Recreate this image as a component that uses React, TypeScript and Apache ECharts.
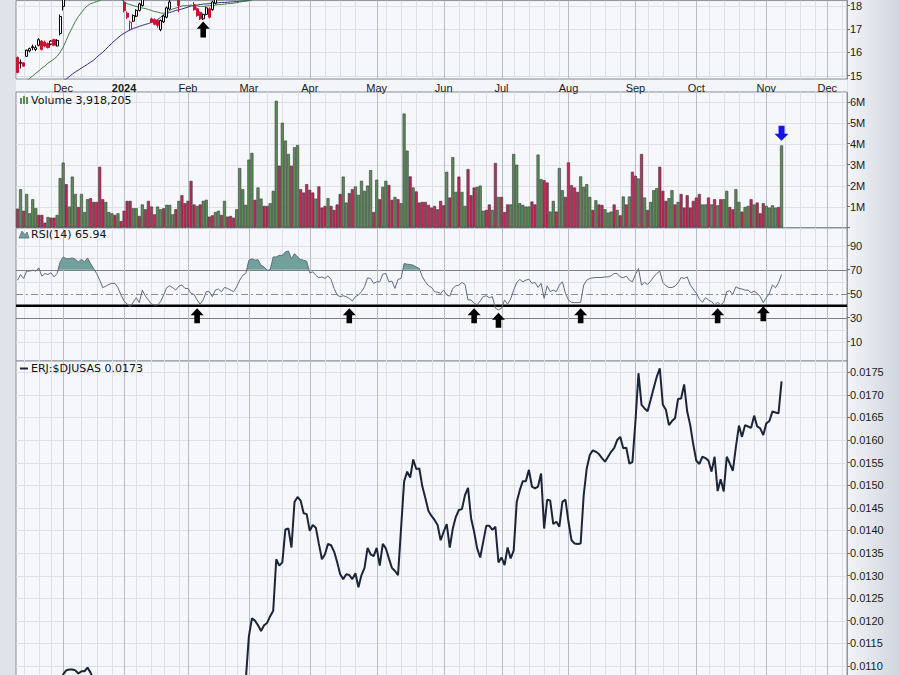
import React, { useEffect, useRef } from 'react';
import * as echarts from 'echarts';

// ---------- calendar ----------
const FIRST_DAY = '2023-11-09';
const LAST_AXIS_DAY = '2024-12-10';
const HOLIDAYS = ['2023-11-23', '2023-12-25', '2024-01-01', '2024-01-15', '2024-02-19', '2024-03-29', '2024-05-27', '2024-06-19', '2024-07-04', '2024-09-02', '2024-11-28'];
const MONTH_NAMES = ['Jan', 'Feb', 'Mar', 'Apr', 'May', 'Jun', 'Jul', 'Aug', 'Sep', 'Oct', 'Nov', 'Dec'];

// ---------- tick labels ----------
const PRICE_TICKS = [15, 16, 17, 18];
const RSI_TICKS = [10, 30, 50, 70, 90];
const RSI_GRID = [10, 20, 60, 80, 90];
const RSI_LEVELS = { overbought: 70, middle: 50, oversold: 30, support: 40 };
const RATIO_LABEL_MIN = 0.0110;

// ---------- volume (millions) ----------
const volumeM = [
  0.90, 1.83, 0.80, 1.60, 0.68, 1.35, 0.92, 0.60, 0.60, 0.23,
  0.50, 0.47, 0.47, 0.60, 2.36, 3.10, 2.07, 1.00, 2.43, 1.60,
  0.98, 1.60, 0.74, 1.35, 1.40, 1.22, 1.22, 2.90, 1.35, 1.22,
  0.74, 0.68, 0.60, 0.68, 0.31, 0.80, 1.27, 1.27, 0.92, 0.92,
  0.55, 1.10, 0.87, 1.27, 1.00, 0.63, 1.00, 0.87, 0.92, 1.08,
  1.08, 0.63, 0.87, 1.27, 1.54, 1.16, 1.27, 2.23, 1.10, 1.03,
  1.10, 1.27, 1.32, 0.52, 0.58, 0.74, 0.80, 0.60, 1.27, 0.52,
  0.55, 0.47, 0.87, 2.84, 1.83, 1.08, 3.24, 3.56, 1.32, 1.91,
  1.38, 1.03, 1.03, 1.16, 1.75, 6.05, 2.95, 5.00, 4.15, 3.51,
  2.95, 3.83, 3.94, 1.83, 1.67, 2.07, 1.80, 1.67, 1.38, 1.96,
  0.95, 1.03, 1.40, 1.03, 0.84, 1.10, 1.60, 2.43, 1.19, 1.64,
  1.83, 1.96, 1.56, 2.23, 1.75, 2.00, 2.74, 0.74, 2.28, 1.35,
  1.94, 2.23, 2.03, 1.32, 1.46, 1.35, 1.16, 5.44, 3.67, 2.44,
  1.91, 1.72, 1.19, 1.22, 1.22, 1.08, 0.95, 1.03, 0.87, 1.27,
  1.06, 2.66, 1.43, 3.36, 1.70, 2.43, 1.70, 1.03, 2.79, 1.54,
  1.91, 1.94, 2.00, 0.80, 0.84, 1.10, 0.84, 3.08, 1.46, 1.46,
  0.74, 1.10, 1.10, 3.51, 3.00, 1.16, 1.08, 1.00, 1.00, 1.24,
  1.10, 3.48, 2.31, 2.26, 2.15, 0.76, 1.27, 0.76, 2.84, 1.78,
  1.46, 3.11, 2.02, 1.91, 1.70, 2.44, 1.94, 2.07, 1.46, 0.84,
  1.30, 1.10, 1.08, 0.87, 0.71, 0.76, 1.10, 0.84, 0.58, 1.48,
  1.10, 1.48, 2.66, 2.47, 2.34, 3.51, 1.43, 0.84, 1.22, 1.78,
  1.88, 2.90, 1.75, 1.27, 1.40, 1.78, 1.10, 1.22, 1.60, 0.95,
  1.54, 0.95, 1.27, 1.43, 1.60, 1.10, 1.10, 1.43, 1.10, 1.35,
  1.06, 1.35, 1.35, 1.75, 0.98, 0.87, 1.83, 1.22, 0.76, 0.98,
  1.03, 1.35, 1.10, 1.19, 0.68, 1.16, 1.03, 0.95, 1.06, 0.95,
  0.98, 3.918205,
];
const volumeDir =
  'rgrggggrrr' + 'grrgggrggg' + 'rgggrrrrrg' + 'ggrgrrrrgg' + 'rgrrrrggrg' +
  'ggrgrrrrrg' + 'rggrrggrgr' + 'rrggggggrg' + 'grrgggrggg' + 'rggrrrrrgr' +
  'rrgrrrrggr' + 'rggggggrgr' + 'ggrrgrgggr' + 'grrrrrrrrr' + 'rgrggrggrr' +
  'rgggrrgrgr' + 'rrgggggggr' + 'rggrrggrgg' + 'rrrrrggggr' + 'grrgggrgrg' +
  'rgrrgrgrgg' + 'grrrggrgrr' + 'rrrrrggrgr' + 'grggrrggrg' + 'grgrrrgggg' +
  'rg';

// ---------- RSI(14) ----------
const rsi = [
  61.3, 66.0, 62.7, 68.8, 68.8, 69.6, 68.8, 71.5, 64.6, 66.8,
  66.0, 67.4, 64.0, 66.8, 76.5, 80.6, 79.2, 79.2, 79.8, 78.7,
  76.5, 78.7, 76.5, 79.8, 75.1, 71.0, 66.8, 61.3, 55.0, 56.3,
  57.7, 58.6, 58.6, 55.0, 48.9, 44.0, 41.4, 39.2, 42.8, 46.7,
  42.6, 53.0, 48.0, 44.8, 41.4, 40.6, 40.6, 43.4, 48.9, 55.0,
  56.6, 55.0, 53.0, 56.3, 57.2, 54.4, 54.4, 50.3, 49.4, 44.8,
  41.2, 44.8, 51.7, 51.7, 47.5, 53.0, 53.9, 51.7, 55.2, 54.4,
  53.0, 51.7, 55.8, 61.3, 65.4, 66.8, 77.9, 79.2, 77.9, 78.4,
  73.7, 72.3, 69.5, 69.9, 80.6, 80.6, 82.0, 82.0, 84.8, 85.6,
  79.2, 83.4, 80.6, 78.4, 77.9, 77.0, 67.4, 68.2, 65.4, 63.2,
  64.0, 62.7, 64.9, 61.9, 54.4, 48.9, 47.5, 48.3, 47.5, 46.1,
  44.0, 47.5, 48.9, 51.7, 55.8, 63.2, 62.7, 58.6, 59.9, 59.9,
  66.3, 66.8, 59.9, 60.5, 54.4, 61.9, 62.7, 75.1, 74.6, 74.3,
  73.7, 72.3, 71.0, 64.0, 59.9, 56.6, 55.2, 51.7, 51.1, 50.3,
  53.0, 48.9, 48.0, 54.4, 56.6, 57.2, 59.4, 57.7, 44.8, 44.8,
  42.0, 40.6, 44.0, 47.5, 48.3, 46.7, 47.5, 37.9, 36.5, 37.9,
  44.8, 41.2, 45.6, 53.0, 59.4, 61.9, 59.9, 61.3, 62.1, 58.6,
  59.4, 55.2, 58.6, 46.1, 56.6, 51.7, 53.0, 51.7, 57.2, 59.9,
  50.3, 44.8, 42.8, 42.6, 42.6, 42.8, 57.2, 61.3, 62.7, 63.2,
  63.5, 63.5, 63.5, 64.0, 64.0, 64.9, 66.8, 66.8, 64.0, 63.2,
  64.6, 61.3, 59.9, 66.0, 71.0, 57.2, 59.4, 57.7, 60.5, 64.0,
  66.8, 68.8, 59.4, 56.6, 55.2, 55.2, 56.3, 59.1, 63.5, 62.7,
  64.0, 57.2, 53.9, 50.3, 45.6, 42.8, 46.7, 44.8, 43.4, 40.6,
  42.8, 40.6, 42.8, 51.7, 52.5, 49.4, 55.8, 54.4, 53.9, 53.0,
  53.0, 50.8, 52.2, 50.3, 47.5, 42.6, 46.7, 50.3, 57.2, 55.0,
  59.1, 65.94,
];

// ---------- ERJ:$DJUSAS ratio ----------
const ratio = [
  0.0097, 0.0098, 0.0098, 0.0100, 0.0101, 0.0102, 0.0101, 0.0103, 0.0102, 0.0102,
  0.0102, 0.0103, 0.0102, 0.0103, 0.0105, 0.01081, 0.01090, 0.01092, 0.01092, 0.01090,
  0.01083, 0.01088, 0.01088, 0.01096, 0.01085, 0.0107, 0.0106, 0.0107, 0.0106, 0.0105,
  0.0106, 0.0107, 0.0106, 0.0105, 0.0104, 0.0103, 0.0102, 0.0100, 0.0101, 0.0102,
  0.0103, 0.0104, 0.0104, 0.0103, 0.0102, 0.0101, 0.0100, 0.0099, 0.0100, 0.0101,
  0.0102, 0.0103, 0.0103, 0.0102, 0.0103, 0.0104, 0.0104, 0.0103, 0.0102, 0.0101,
  0.0100, 0.0100, 0.0101, 0.0102, 0.0101, 0.0102, 0.0103, 0.0104, 0.0104, 0.0105,
  0.0104, 0.0105, 0.0105, 0.0106, 0.0106, 0.0107, 0.01165, 0.01205, 0.01200, 0.01190,
  0.01177, 0.01190, 0.01195, 0.01210, 0.01222, 0.01336, 0.01322, 0.01329, 0.01402, 0.01404,
  0.01362, 0.01463, 0.01474, 0.01466, 0.01438, 0.01436, 0.01399, 0.01412, 0.01406, 0.01370,
  0.01336, 0.01347, 0.01370, 0.01367, 0.01353, 0.01330, 0.01303, 0.01292, 0.01303, 0.01301,
  0.01292, 0.01305, 0.01274, 0.01301, 0.01317, 0.01361, 0.01347, 0.01343, 0.01361, 0.01322,
  0.01370, 0.01360, 0.01338, 0.01317, 0.01310, 0.01301, 0.01404, 0.01508, 0.01530, 0.01517,
  0.01557, 0.01536, 0.01537, 0.01497, 0.01471, 0.01443, 0.01432, 0.01423, 0.01412, 0.01378,
  0.01397, 0.01414, 0.01362, 0.01404, 0.01430, 0.01445, 0.01447, 0.01478, 0.01494, 0.01427,
  0.01397, 0.01360, 0.01340, 0.01375, 0.01410, 0.01410, 0.01401, 0.01408, 0.01329, 0.01340,
  0.01323, 0.01362, 0.01338, 0.01355, 0.01463, 0.01489, 0.01509, 0.01509, 0.01534, 0.01497,
  0.01493, 0.01497, 0.01526, 0.01404, 0.01468, 0.01466, 0.01414, 0.01419, 0.01408, 0.01463,
  0.01468, 0.01419, 0.01378, 0.01371, 0.01370, 0.01371, 0.01478, 0.01537, 0.01567, 0.01577,
  0.01574, 0.01569, 0.01560, 0.01552, 0.01563, 0.01574, 0.01582, 0.01600, 0.01607, 0.01582,
  0.01583, 0.01548, 0.01551, 0.01641, 0.01748, 0.01678, 0.01670, 0.01664, 0.01689, 0.01715,
  0.01740, 0.01759, 0.01678, 0.01667, 0.01633, 0.01642, 0.01648, 0.01691, 0.01692, 0.01723,
  0.01663, 0.01633, 0.01590, 0.01554, 0.01547, 0.01563, 0.01560, 0.01554, 0.01530, 0.01563,
  0.01487, 0.01513, 0.01486, 0.01563, 0.01548, 0.01532, 0.01585, 0.01632, 0.01607, 0.01633,
  0.01630, 0.01627, 0.01654, 0.01630, 0.01626, 0.01611, 0.01637, 0.01642, 0.01663, 0.01661,
  0.01659, 0.0173,
];

// ---------- visible price candles ----------
const candleIndex = [0, 1, 2, 3, 4, 5, 6, 7, 8, 9, 10, 11, 12, 13, 14, 15, 35, 36, 37, 38, 39, 40, 41, 44, 45, 46, 47, 48, 49, 50, 53, 58, 59, 60, 61, 62, 63, 64, 65];
const candleOpen = [15.78, 15.53, 15.55, 15.83, 16.06, 16.20, 16.12, 16.30, 16.48, 16.44, 16.37, 16.35, 16.54, 16.27, 16.80, 17.96, 18.14, 17.67, 16.97, 17.33, 17.54, 17.79, 18.00, 17.43, 17.40, 17.36, 16.97, 17.30, 17.50, 17.85, 18.30, 18.04, 17.86, 17.71, 17.43, 17.62, 17.86, 17.82, 18.10];
const candleClose = [15.14, 15.57, 15.41, 16.09, 16.16, 16.24, 16.20, 16.54, 16.12, 16.27, 16.20, 16.48, 16.30, 16.51, 17.53, 18.40, 17.79, 17.50, 17.29, 17.57, 17.79, 18.07, 18.30, 17.29, 17.20, 17.15, 17.36, 17.55, 17.90, 18.15, 18.00, 17.82, 17.57, 17.43, 17.62, 17.90, 17.50, 18.15, 18.35];
const candleLow = [15.10, 15.31, 15.38, 15.80, 16.00, 16.09, 16.05, 16.25, 16.08, 16.22, 16.17, 16.30, 16.27, 16.25, 16.72, 17.79, 17.70, 17.42, 16.92, 17.30, 17.50, 17.74, 17.95, 17.25, 17.16, 17.05, 16.90, 17.25, 17.45, 17.80, 17.71, 17.78, 17.52, 17.38, 17.38, 17.58, 17.45, 17.78, 18.05];
const candleHigh = [15.82, 15.69, 15.58, 16.12, 16.20, 16.33, 16.30, 16.60, 16.52, 16.50, 16.42, 16.52, 16.58, 16.56, 17.62, 18.55, 18.30, 17.75, 17.35, 17.62, 17.84, 18.12, 18.40, 17.48, 17.45, 17.40, 17.40, 17.60, 17.95, 18.25, 18.40, 18.15, 17.92, 17.75, 17.66, 17.95, 17.92, 18.20, 18.45];
const redHollowCandles = [37];

// ---------- moving averages (visible part) ----------
const maFastStart = 3;
const maFast = [
  14.77, 14.90, 14.99, 15.11, 15.20, 15.33, 15.41, 15.54, 15.62, 15.71,
  15.83, 16.00, 16.22, 16.51, 16.81, 17.06, 17.32, 17.53, 17.70, 17.87,
  17.99, 18.08, 18.12, 18.17, 18.21, 18.30, 18.38, 18.44, 18.48, 18.48,
  18.40, 18.28, 18.15, 18.08, 18.04, 18.00, 17.96, 17.93, 17.89, 17.87,
  17.83, 17.79, 17.74, 17.72, 17.68, 17.67, 17.70, 17.79, 17.85, 17.89,
  17.93, 17.98, 17.99, 17.99, 18.02, 17.99, 17.98, 17.96, 17.96, 17.98,
  17.99, 17.99, 18.02, 18.04, 18.04, 18.06, 18.08, 18.08, 18.10, 18.12,
  18.15, 18.17, 18.19, 18.21, 18.25, 18.30, 18.36, 18.45,
];
const maSlowStart = 15;
const maSlow = [
  14.80, 14.86, 14.96, 15.07, 15.16, 15.24, 15.33, 15.41, 15.49, 15.58,
  15.66, 15.79, 15.90, 16.00, 16.13, 16.26, 16.39, 16.51, 16.62, 16.73,
  16.81, 16.89, 16.96, 17.02, 17.06, 17.11, 17.15, 17.19, 17.23, 17.28,
  17.32, 17.40, 17.49, 17.62, 17.66, 17.70, 17.74, 17.79, 17.81, 17.85,
  17.89, 17.93, 17.98, 17.99, 18.02, 18.04, 18.06, 18.07, 18.08, 18.10,
  18.10, 18.12, 18.13, 18.13, 18.14, 18.15, 18.16, 18.17, 18.18, 18.19,
  18.20, 18.21, 18.25, 18.30,
];

// ---------- annotations (arrows) ----------
const priceArrow = [61, 16.98];
const rsiArrows = [[59, 31.6], [109, 31.6], [150, 31.6], [158, 27.8], [185, 31.6], [230, 31.6], [245, 33.2]];
const volumeArrow = [251, 4.5];

// ---------- styles ----------
const OUTER_BG = '#dfe3ea';
const PLOT_BG = '#f5f7fa';
const GRID_MINOR = '#dde1e7';
const GRID_MAJOR = '#b7bbc3';
const BORDER = '#8a9099';
const GREEN = '#5b8c57';
const RED = '#c42657';
const CANDLE_RED = '#cc1133';
const FONT_AXIS = '"Liberation Sans", Arial, sans-serif';
const FONT_LEGEND = '"DejaVu Sans", Verdana, sans-serif';
const UP_ARROW = 'path://M7,0 L14,7 L10,7 L10,15 L4,15 L4,7 L0,7 Z';
const DOWN_ARROW = 'path://M4,0 L10,0 L10,8 L14,8 L7,15 L0,8 L4,8 Z';

function tradingDays(start: string, end: string, holidays: string[]) {
  const out: string[] = [];
  const hs = new Set(holidays);
  const d = new Date(start + 'T00:00:00Z');
  const e = new Date(end + 'T00:00:00Z');
  while (d <= e) {
    const wd = d.getUTCDay();
    const s = d.toISOString().slice(0, 10);
    if (wd !== 0 && wd !== 6 && !hs.has(s)) out.push(s);
    d.setUTCDate(d.getUTCDate() + 1);
  }
  return out;
}

function buildOption() {
  const dates = tradingDays(FIRST_DAY, LAST_AXIS_DAY, HOLIDAYS);
  const monthStarts: number[] = [];
  const weekStarts: number[] = [];
  for (let i = 1; i < dates.length; i++) {
    if (dates[i].slice(0, 7) !== dates[i - 1].slice(0, 7)) monthStarts.push(i);
    const a = new Date(dates[i] + 'T00:00:00Z').getUTCDay();
    const b = new Date(dates[i - 1] + 'T00:00:00Z').getUTCDay();
    if (a < b) weekStarts.push(i);
  }
  const monthSet = new Set(monthStarts);
  const minorIdx = weekStarts.filter((w) => monthStarts.every((m) => Math.abs(m - w) > 2));

  const grids = [
    { top: 0, height: 79 },
    { top: 92, height: 135.5 },
    { top: 228, height: 133 },
    { top: 361, height: 350 },
  ].map((g) => ({
    left: 16, width: 831, top: g.top, height: g.height, show: true,
    backgroundColor: PLOT_BG, borderColor: BORDER, borderWidth: 1, containLabel: false,
  }));

  const xAxes = [0, 1, 2, 3].map((gi) => ({
    type: 'category', gridIndex: gi, data: dates, boundaryGap: true,
    axisLine: { show: false }, axisTick: { show: false }, splitLine: { show: false },
    axisLabel: gi === 0 ? {
      show: true, interval: (idx: number) => monthSet.has(idx), margin: 3,
      color: '#1a1a1a', fontSize: 11, fontFamily: FONT_AXIS,
      formatter: (v: string) => {
        const m = +v.slice(5, 7);
        return m === 1 ? '{y|' + v.slice(0, 4) + '}' : MONTH_NAMES[m - 1];
      },
      rich: { y: { fontWeight: 'bold', fontSize: 11, fontFamily: FONT_AXIS, color: '#1a1a1a' } },
    } : { show: false },
  }));

  const yBase = (gi: number) => ({
    type: 'value', gridIndex: gi, position: 'right', scale: true,
    axisLine: { show: true, lineStyle: { color: '#8c8c8c', type: 'dotted' } },
    axisTick: { show: true, length: 3, lineStyle: { color: '#6c6c6c' } },
    splitLine: { show: false },
    axisLabel: { color: '#1a1a1a', fontSize: 11, fontFamily: FONT_AXIS, margin: 3 },
  });
  const yAxes: any[] = [
    { ...yBase(0), min: 14.86, max: 18.21, axisLabel: { ...yBase(0).axisLabel, customValues: PRICE_TICKS }, axisTick: { ...yBase(0).axisTick, customValues: PRICE_TICKS } },
    { ...yBase(1), min: 0, max: 6.47, interval: 1, axisLabel: { ...yBase(1).axisLabel, showMaxLabel: false, formatter: (v: number) => (v > 0.5 && v < 6.4 ? Math.round(v) + 'M' : '') } },
    { ...yBase(2), min: -6.08, max: 104.75, axisLabel: { ...yBase(2).axisLabel, customValues: RSI_TICKS }, axisTick: { ...yBase(2).axisTick, customValues: RSI_TICKS } },
    {
      ...yBase(3), min: 0.01, max: 0.01775, interval: 0.0005,
      axisLabel: { ...yBase(3).axisLabel, showMaxLabel: false, showMinLabel: false, formatter: (v: number) => (v > 0.01774 || v < RATIO_LABEL_MIN - 1e-7 ? '' : v.toFixed(4)) },
    },
  ];

  const hGrid: any[][] = [
    PRICE_TICKS.map((v) => ({ v, color: GRID_MINOR })),
    [1, 2, 3, 4, 5, 6].map((v) => ({ v, color: GRID_MINOR })),
    [
      ...RSI_GRID.map((v) => ({ v, color: GRID_MINOR })),
      { v: RSI_LEVELS.overbought, color: '#7d8088' },
      { v: RSI_LEVELS.oversold, color: '#7d8088' },
      { v: RSI_LEVELS.middle, color: '#8a8d94', dash: [7, 3, 2, 3] },
    ],
    Array.from({ length: 16 }, (_, k) => ({ v: 0.01 + k * 0.0005, color: GRID_MINOR })),
  ];

  const gridLines = (gi: number) => ({
    type: 'custom', xAxisIndex: gi, yAxisIndex: gi, z: 1, silent: true, clip: true,
    data: [[0, 0]],
    renderItem: (params: any, api: any) => {
      const cs = params.coordSys;
      const top = cs.y, bottom = cs.y + cs.height, left = cs.x, right = cs.x + cs.width;
      const children: any[] = [];
      minorIdx.forEach((i) => {
        const x = Math.round(api.coord([i, 0])[0]) + 0.5;
        children.push({ type: 'line', shape: { x1: x, y1: top, x2: x, y2: bottom }, style: { stroke: GRID_MINOR, lineWidth: 1 } });
      });
      hGrid[gi].forEach((h: any) => {
        const y = Math.round(api.coord([0, h.v])[1]) + 0.5;
        if (y < top || y > bottom) return;
        children.push({ type: 'line', shape: { x1: left, y1: y, x2: right, y2: y }, style: { stroke: h.color, lineWidth: 1, lineDash: h.dash } });
      });
      monthStarts.forEach((i) => {
        const x = Math.round(api.coord([i, 0])[0]) + 0.5;
        children.push({ type: 'line', shape: { x1: x, y1: top, x2: x, y2: bottom }, style: { stroke: GRID_MAJOR, lineWidth: 1 } });
      });
      if (gi === 2) {
        const y = api.coord([0, RSI_LEVELS.support])[1];
        children.push({ type: 'line', shape: { x1: left, y1: y, x2: right, y2: y }, style: { stroke: '#000', lineWidth: 2.6 } });
      }
      return { type: 'group', children };
    },
  });

  const candleData = candleIndex.map((idx, k) => {
    const item: any = { value: [idx, candleOpen[k], candleClose[k], candleLow[k], candleHigh[k]] };
    if (redHollowCandles.includes(idx)) item.itemStyle = { color: '#ffffff', borderColor: CANDLE_RED };
    return item;
  });

  const padLine = (start: number, vals: number[]) => {
    const out: any[] = new Array(dates.length).fill('-');
    vals.forEach((v, k) => { out[start + k] = v; });
    return out;
  };

  const rsiFill = {
    type: 'custom', xAxisIndex: 2, yAxisIndex: 2, z: 2, silent: true, clip: true,
    data: [[0, RSI_LEVELS.overbought]],
    renderItem: (params: any, api: any) => {
      const lvl = RSI_LEVELS.overbought;
      const y70 = api.coord([0, lvl])[1];
      const pts = rsi.map((v, i) => api.coord([i, v]));
      const children: any[] = [];
      let poly: number[][] | null = null;
      for (let i = 0; i < rsi.length; i++) {
        const above = rsi[i] > lvl;
        if (above && !poly) {
          poly = [];
          if (i > 0) {
            const t = (lvl - rsi[i - 1]) / (rsi[i] - rsi[i - 1]);
            poly.push([pts[i - 1][0] + t * (pts[i][0] - pts[i - 1][0]), y70]);
          } else poly.push([pts[i][0], y70]);
        }
        if (above && poly) poly.push(pts[i]);
        if (poly && (!above || i === rsi.length - 1)) {
          if (!above) {
            const t = (rsi[i - 1] - lvl) / (rsi[i - 1] - rsi[i]);
            poly.push([pts[i - 1][0] + t * (pts[i][0] - pts[i - 1][0]), y70]);
          } else poly.push([pts[i][0], y70]);
          children.push({ type: 'polygon', shape: { points: poly }, style: { fill: '#72a19c' } });
          poly = null;
        }
      }
      return { type: 'group', children };
    },
  };

  const series: any[] = [
    gridLines(0), gridLines(1), gridLines(2), gridLines(3),
    {
      type: 'line', xAxisIndex: 0, yAxisIndex: 0, z: 3, data: padLine(maSlowStart, maSlow),
      showSymbol: false, symbol: 'none', silent: true, lineStyle: { color: '#2f2f88', width: 1 }, clip: true,
    },
    {
      type: 'line', xAxisIndex: 0, yAxisIndex: 0, z: 3, data: padLine(maFastStart, maFast),
      showSymbol: false, symbol: 'none', silent: true, lineStyle: { color: '#3f7d3b', width: 1 }, clip: true,
    },
    {
      type: 'candlestick', xAxisIndex: 0, yAxisIndex: 0, z: 4, silent: true, clip: true,
      encode: { x: 0, y: [1, 2, 3, 4] }, barWidth: 2.6,
      data: candleData,
      itemStyle: { color: '#ffffff', borderColor: '#000000', color0: CANDLE_RED, borderColor0: CANDLE_RED, borderWidth: 1 },
      markPoint: {
        silent: true, symbol: UP_ARROW, symbolSize: [13, 16], itemStyle: { color: '#000' }, label: { show: false },
        data: [{ coord: priceArrow }],
      },
    },
    {
      type: 'bar', xAxisIndex: 1, yAxisIndex: 1, z: 3, silent: true, barCategoryGap: '0%',
      data: volumeM.map((v, i) => ({
        value: v,
        itemStyle: { color: volumeDir[i] === 'g' ? GREEN : RED },
      })),
      itemStyle: { borderColor: '#3a3a3a', borderWidth: 0.6 },
      markPoint: {
        silent: true, symbol: DOWN_ARROW, symbolSize: [14, 15], itemStyle: { color: '#1414e6' }, label: { show: false },
        data: [{ coord: volumeArrow }],
      },
    },
    rsiFill,
    {
      type: 'line', xAxisIndex: 2, yAxisIndex: 2, z: 3, data: rsi, showSymbol: false, symbol: 'none', silent: true,
      lineStyle: { color: '#5f6b80', width: 1 },
      markPoint: {
        silent: true, symbol: UP_ARROW, symbolSize: [13, 15], itemStyle: { color: '#000' }, label: { show: false },
        data: rsiArrows.map((c) => ({ coord: c })),
      },
    },
    {
      type: 'line', xAxisIndex: 3, yAxisIndex: 3, z: 3, data: ratio, showSymbol: false, symbol: 'none', silent: true,
      lineStyle: { color: '#1c2538', width: 2 }, clip: true,
    },
  ];

  const lastVol = Math.round(volumeM[volumeM.length - 1] * 1e6).toLocaleString('en-US');
  const lastRsi = rsi[rsi.length - 1].toFixed(2);
  const lastRatio = ratio[ratio.length - 1].toFixed(4);
  const legendText = (x: number, y: number, text: string) => ({
    type: 'text', x, y, z: 10, silent: true,
    style: { text, fontSize: 11, fontFamily: FONT_LEGEND, fill: '#111', textVerticalAlign: 'middle', textAlign: 'left' },
  });

  const graphic = [
    { type: 'rect', shape: { x: 16, y: 79.5, width: 831, height: 12 }, style: { fill: '#f4f5f8' }, z: -1, silent: true },
    { type: 'rect', shape: { x: 20, y: 98, width: 2, height: 6 }, style: { fill: GREEN }, z: 10, silent: true },
    { type: 'rect', shape: { x: 23, y: 96, width: 2, height: 8 }, style: { fill: GREEN }, z: 10, silent: true },
    { type: 'rect', shape: { x: 26, y: 97, width: 2, height: 7 }, style: { fill: GREEN }, z: 10, silent: true },
    legendText(31, 100.5, 'Volume ' + lastVol),
    { type: 'polygon', shape: { points: [[19, 238], [22, 231], [25, 235], [27, 232], [29, 238]] }, style: { fill: '#72a19c', stroke: '#5f6b80', lineWidth: 0.8 }, z: 10, silent: true },
    legendText(31, 234, 'RSI(14) ' + lastRsi),
    { type: 'rect', shape: { x: 20, y: 367.5, width: 8, height: 2 }, style: { fill: '#1c2538' }, z: 10, silent: true },
    legendText(31, 368.5, 'ERJ:$DJUSAS ' + lastRatio),
  ];

  return { animation: false, backgroundColor: 'transparent', grid: grids, xAxis: xAxes, yAxis: yAxes, series, graphic };
}

export default function App() {
  const ref = useRef<HTMLDivElement>(null);
  useEffect(() => {
    document.body.style.margin = '0';
    const chart = echarts.init(ref.current!, undefined, { renderer: 'svg' });
    chart.setOption(buildOption() as any);
    return () => chart.dispose();
  }, []);
  return (
    <div
      ref={ref}
      style={{
        position: 'fixed', left: 0, top: 0, width: 900, height: 720, overflow: 'hidden',
        background: `linear-gradient(to right, #f2f4f7, #cfd5de) right top / 52px 100% no-repeat, ${OUTER_BG}`,
      }}
    />
  );
}
